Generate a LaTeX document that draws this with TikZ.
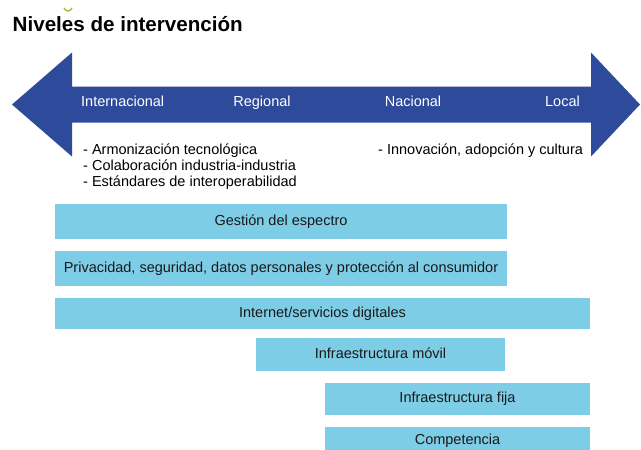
\documentclass[tikz,border=0pt]{standalone}
\usepackage{fontspec}
\setmainfont{Liberation Sans}
\definecolor{arrowblue}{RGB}{46,74,155}
\definecolor{boxblue}{RGB}{126,205,230}
\definecolor{markgreen}{RGB}{150,190,60}
\begin{document}
\begin{tikzpicture}[x=1pt,y=-1pt,
  lbl/.style={inner sep=0pt, text height=0.72em, text depth=0pt, font=\fontsize{14.5}{17}\selectfont},
  axislbl/.style={lbl, text=white},
  bullet/.style={lbl, anchor=base west, text=black},
  bar/.style={lbl, fill=boxblue, text=black!90}]
\useasboundingbox (0,0) rectangle (641,450);
% title
\node[inner sep=0pt, anchor=base west,
      font=\fontsize{20.6}{24}\selectfont\bfseries] (title) at (12.5,31.5) {Niveles de intervención};
\draw[markgreen, line width=1.3pt] (64,8) .. controls (66,12) and (70,12) .. (72,8);
% double arrow
\fill[arrowblue] (12,104.5) -- (72,52.5) -- (72,86.5) -- (591,86.5) -- (591,52.5)
  -- (640,104.5) -- (591,156.5) -- (591,122.5) -- (72,122.5) -- (72,156.5) -- cycle;
\node[axislbl, anchor=west] (int) at (81,103) {Internacional};
\node[axislbl] (reg) at (262,103) {Regional};
\node[axislbl] (nac) at (413,103) {Nacional};
\node[axislbl, anchor=east] (loc) at (580,103) {Local};
% bullets
\node[bullet] (b1) at (83,154.5) {- Armonización tecnológica};
\node[bullet] (b2) at (83,170.5) {- Colaboración industria-industria};
\node[bullet] (b3) at (83,186.5) {- Estándares de interoperabilidad};
\node[bullet] (b4) at (378,154.5) {- Innovación, adopción y cultura};
% bars
\node[bar, minimum width=452, minimum height=35] (g1) at (281,221.5) {Gestión del espectro};
\node[bar, minimum width=452, minimum height=35] (g2) at (281,268.5) {Privacidad, seguridad, datos personales y protección al consumidor};
\node[bar, minimum width=535, minimum height=31] (g3) at (322.5,313.5) {Internet/servicios digitales};
\node[bar, minimum width=249, minimum height=33] (g4) at (380.5,354.5) {Infraestructura móvil};
\node[bar, minimum width=265, minimum height=32] (g5) at (457.5,399) {Infraestructura fija};
\node[bar, minimum width=265, minimum height=27] (g6) at (457.5,440.5) {Competencia};
\end{tikzpicture}
\end{document}
